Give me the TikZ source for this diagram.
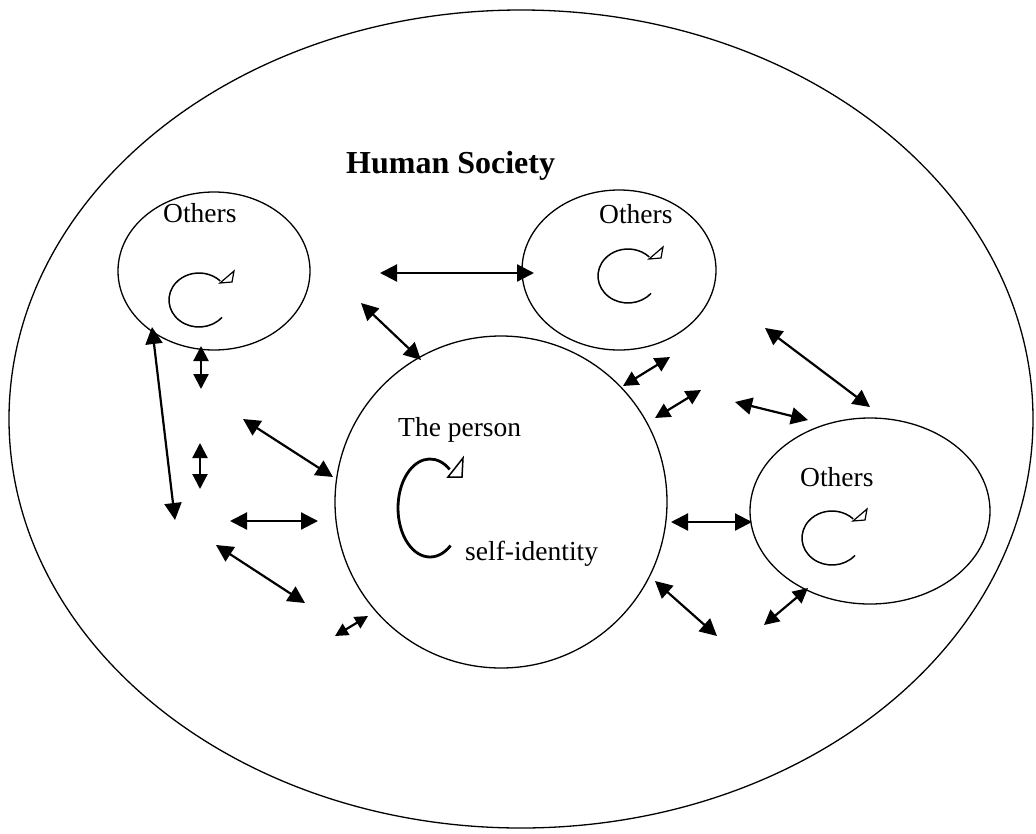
\documentclass[tikz,border=0pt]{standalone}
\usepackage{fontspec}
\setmainfont{Liberation Serif}
\usetikzlibrary{arrows.meta,shapes.geometric}
\begin{document}
\begin{tikzpicture}[x=1pt,y=-1pt,
  ring/.style={draw, ellipse, line width=1.3pt, inner sep=0pt},
  link/.style={line width=2.2pt, {Triangle[length=#1,width=#1]}-{Triangle[length=#1,width=#1]}},
  link/.default=17pt,
  lbl/.style={font=\fontsize{27.5}{33}\selectfont, anchor=base west, inner sep=0pt},
  title/.style={font=\fontsize{32}{38}\selectfont\bfseries, anchor=base west, inner sep=0pt},
  smallcurl/.pic={
    \draw[line width=1.5pt] (40:30 and 27) arc[start angle=40, end angle=315, x radius=30, y radius=27];
    \draw[line width=1.2pt, fill=white, line join=miter] (35,-29) -- (21,-17) -- (33,-18) -- cycle;
  },
  bigcurl/.pic={
    \draw[line width=2.8pt] (50:32 and 49) arc[start angle=50, end angle=308, x radius=32, y radius=49];
    \draw[line width=1.5pt, fill=white, line join=miter] (33,-50) -- (18,-31) -- (32,-31) -- cycle;
  }]
\useasboundingbox (0,0) rectangle (1036,833);
% circles
\node[ring, minimum width=1024pt, minimum height=818pt] (society) at (521,419) {};
\node[ring, minimum width=192pt, minimum height=158pt] (o1) at (214,271) {};
\node[ring, minimum width=194pt, minimum height=160pt] (o2) at (619,270) {};
\node[ring, minimum width=240pt, minimum height=186pt] (o3) at (870,511) {};
\node[ring, minimum width=332pt, minimum height=332pt] (person) at (501,502) {};
% labels
\node[title] (tHS) at (346,173) {Human Society};
\node[lbl] (tO1) at (163,222) {Others};
\node[lbl] (tO2) at (599,223) {Others};
\node[lbl] (tO3) at (800,486) {Others};
\node[lbl] (tP) at (398,436) {The person};
\node[lbl] (tS) at (465,560) {self-identity};
% curls
\pic at (199,300) {smallcurl};
\pic at (628,276) {smallcurl};
\pic at (832,538) {smallcurl};
\pic at (430,508) {bigcurl};
% arrow end points
\coordinate (a1s) at (380,273); \coordinate (a1e) at (534,273);
\coordinate (a2s) at (361,303); \coordinate (a2e) at (421,360);
\coordinate (a3s) at (201,346); \coordinate (a3e) at (201,389);
\coordinate (a4s) at (152,327); \coordinate (a4e) at (175,520);
\coordinate (a5s) at (200,443); \coordinate (a5e) at (200,489);
\coordinate (a6s) at (243,419); \coordinate (a6e) at (333,477);
\coordinate (a7s) at (230,521); \coordinate (a7e) at (318,521);
\coordinate (a8s) at (216,545); \coordinate (a8e) at (305,603);
\coordinate (a9s) at (335,636); \coordinate (a9e) at (368,616);
\coordinate (a10s) at (623,386); \coordinate (a10e) at (670,357);
\coordinate (a11s) at (655,418); \coordinate (a11e) at (701,390);
\coordinate (a12s) at (735,402); \coordinate (a12e) at (808,420);
\coordinate (a13s) at (765,328); \coordinate (a13e) at (870,407);
\coordinate (a14s) at (671,522); \coordinate (a14e) at (752,522);
\coordinate (a15s) at (655,581); \coordinate (a15e) at (717,636);
\coordinate (a16s) at (764,625); \coordinate (a16e) at (808,588);
\foreach \i in {1,2,4,6,7,8,12,13,14,15} {\draw[link] (a\i s) -- (a\i e);}
\foreach \i in {3,5,10,11,16} {\draw[link=15pt] (a\i s) -- (a\i e);}
\draw[link=13pt] (a9s) -- (a9e);
\end{tikzpicture}
\end{document}
